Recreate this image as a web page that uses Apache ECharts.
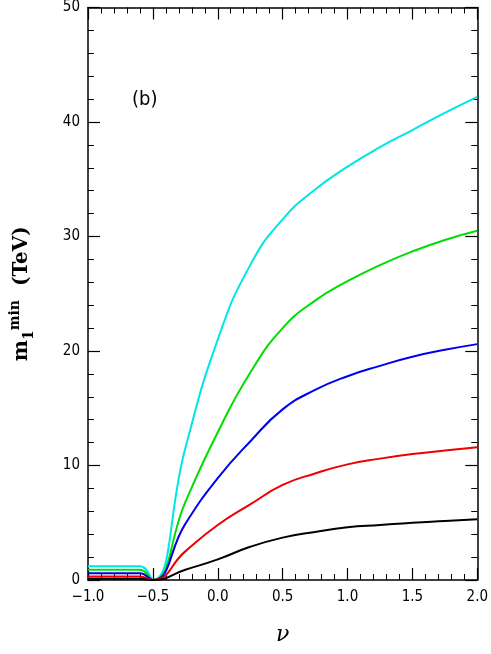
<!DOCTYPE html>
<html><head><meta charset="utf-8">
<script src="https://cdn.jsdelivr.net/npm/echarts@6/dist/echarts.min.js"></script>
<style>html,body{margin:0;padding:0;background:#fff}#c{width:491px;height:654px}</style>
</head><body><div id="c"></div>
<script>
const xs = [-1, -0.6, -0.5, -0.25, 0, 0.25, 0.5, 0.75, 1, 1.25, 1.5, 1.75, 2];
const cyan  = [1.2, 1.2, 0, 11.5, 21, 27.5, 31.5, 34.1, 36.1, 37.8, 39.3, 40.8, 42.2];
const green = [0.9, 0.9, 0, 6.8, 12.9, 18.1, 22, 24.4, 26.1, 27.5, 28.7, 29.7, 30.5];
const blue  = [0.6, 0.6, 0, 4.9, 8.9, 12.1, 14.9, 16.6, 17.8, 18.7, 19.5, 20.1, 20.6];
const red   = [0.3, 0.3, 0, 2.5, 4.8, 6.6, 8.3, 9.3, 10.1, 10.6, 11, 11.3, 11.6];
const black = [0.1, 0.1, 0, 0.9, 1.8, 2.9, 3.7, 4.2, 4.6, 4.8, 5, 5.15, 5.3];
const seriesDefs = [[cyan, '#00e5e5'], [green, '#00dd00'], [blue, '#0000ee'], [red, '#ee0000'], [black, '#000000']];

const chart = echarts.init(document.getElementById('c'));
const axisBase = {
  axisLine: { onZero: false, lineStyle: { color: '#000', width: 1.5 } },
  axisTick: { inside: true, length: 12, lineStyle: { color: '#000', width: 1.2 } },
  minorTick: { show: true, splitNumber: 5, length: 6, lineStyle: { color: '#000' } },
  splitLine: { show: false }
};
chart.setOption({
  animation: false,
  grid: { left: 86, right: 9, top: 6, bottom: 74 },
  xAxis: [
    Object.assign({ type: 'value', min: -1, max: 2, interval: 0.5,
      axisLabel: { color: '#000', fontSize: 15, fontFamily: 'DejaVu Sans Condensed', margin: 10,
        formatter: v => v.toFixed(1).replace('-', '\u2212') },
      name: '\u03bd', nameLocation: 'middle', nameGap: 44,
      nameTextStyle: { fontSize: 22, fontStyle: 'italic', fontFamily: 'DejaVu Serif', color: '#000' } }, axisBase),
    Object.assign({ type: 'value', position: 'top', min: -1, max: 2, interval: 0.5, axisLabel: { show: false } }, axisBase)
  ],
  yAxis: [
    Object.assign({ type: 'value', min: 0, max: 50, interval: 10,
      axisLabel: { color: '#000', fontSize: 15, fontFamily: 'DejaVu Sans Condensed', margin: 8 },
      name: '{a|m}{s|1}{p|min}{a|  (TeV)}', nameLocation: 'middle', nameGap: 52,
      nameTextStyle: { rich: {
        a: { fontSize: 20, fontWeight: 'bold', fontFamily: 'DejaVu Serif', color: '#000' },
        s: { fontSize: 14, fontWeight: 'bold', fontFamily: 'DejaVu Serif', color: '#000', verticalAlign: 'bottom', padding: [8, 0, 0, 0] },
        p: { fontSize: 14, fontWeight: 'bold', fontFamily: 'DejaVu Serif', color: '#000', padding: [0, 0, 14, 0] }
      } } }, axisBase),
    Object.assign({ type: 'value', position: 'right', min: 0, max: 50, interval: 10, axisLabel: { show: false } }, axisBase)
  ],
  graphic: [{ type: 'text', left: 132, top: 90,
    style: { text: '(b)', fontSize: 20, fontFamily: 'DejaVu Sans Condensed', fill: '#000' } }],
  series: seriesDefs.map(([ys, col]) => ({
    type: 'line', smooth: 0.5, showSymbol: false,
    lineStyle: { color: col, width: 2 },
    data: xs.map((x, i) => [x, ys[i]])
  }))
});
</script></body></html>
